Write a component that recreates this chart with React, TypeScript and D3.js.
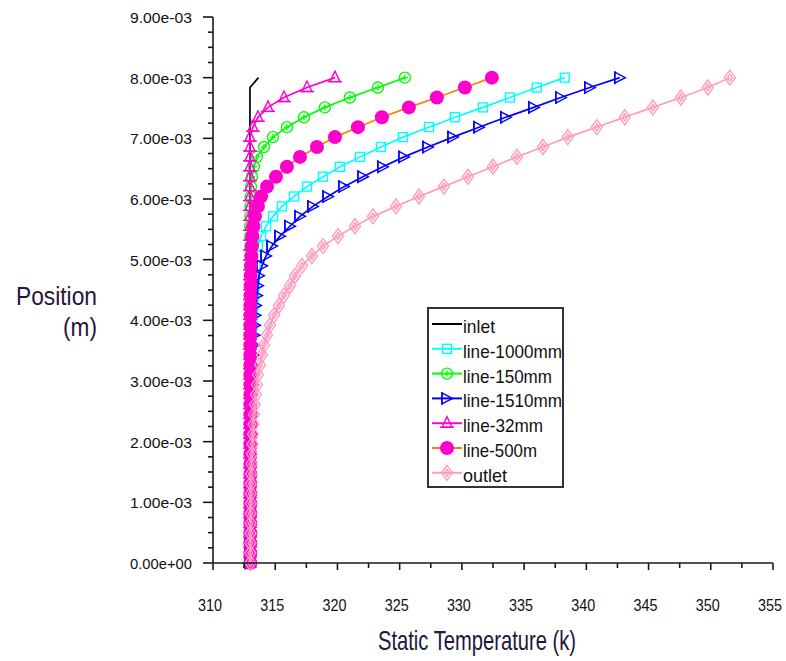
import React from "react";
import * as d3 from "d3";

// ---------- data ----------
const Y_MM = [
  0.0, 0.163, 0.327, 0.49, 0.653, 0.816, 0.98, 1.143, 1.306, 1.469,
  1.633, 1.796, 1.959, 2.122, 2.286, 2.449, 2.612, 2.776, 2.939, 3.102,
  3.265, 3.429, 3.592, 3.755, 3.918, 4.082, 4.245, 4.408, 4.571, 4.735,
  4.898, 5.061, 5.224, 5.388, 5.551, 5.714, 5.878, 6.041, 6.204, 6.367,
  6.531, 6.694, 6.857, 7.02, 7.184, 7.347, 7.51, 7.673, 7.837, 8.0,
];

const T_INLET = [
  312.97, 312.97, 312.97, 312.97, 312.97, 312.97, 312.97, 312.97, 312.97, 312.97,
  312.97, 312.97, 312.97, 312.97, 312.97, 312.97, 312.97, 312.97, 312.97, 312.97,
  312.97, 312.97, 312.97, 312.97, 312.97, 312.97, 312.97, 312.97, 312.97, 312.97,
  312.97, 312.97, 312.97, 312.97, 312.97, 312.97, 312.97, 312.97, 312.97, 312.97,
  312.97, 312.97, 312.97, 312.97, 312.97, 312.97, 312.97, 312.97, 312.97, 313.65,
];

const T_1000 = [
  313.0, 313.0, 313.0, 313.0, 313.0, 313.01, 313.01, 313.01, 313.01, 313.01,
  313.02, 313.02, 313.02, 313.02, 313.02, 313.02, 313.02, 313.02, 313.02, 313.02,
  313.03, 313.05, 313.09, 313.13, 313.17, 313.21, 313.25, 313.29, 313.33, 313.37,
  313.41, 313.49, 313.61, 313.86, 314.26, 314.82, 315.54, 316.51, 317.55, 318.84,
  320.2, 321.81, 323.49, 325.26, 327.35, 329.44, 331.69, 333.86, 336.02, 338.27,
];

const T_150 = [
  313.0, 313.0, 313.0, 313.0, 313.0, 313.0, 313.0, 313.0, 313.0, 313.0,
  313.0, 313.0, 313.0, 313.0, 313.0, 313.0, 313.0, 313.0, 313.0, 313.0,
  313.0, 313.0, 313.0, 313.0, 313.0, 313.0, 313.0, 313.0, 313.0, 313.0,
  313.0, 313.0, 313.0, 313.0, 313.0, 313.01, 313.02, 313.03, 313.05, 313.13,
  313.29, 313.53, 314.1, 314.82, 315.94, 317.31, 318.99, 321.0, 323.25, 325.42,
];

const T_1510 = [
  313.0, 313.0, 313.0, 313.01, 313.01, 313.01, 313.02, 313.02, 313.02, 313.03,
  313.03, 313.03, 313.04, 313.04, 313.04, 313.04, 313.05, 313.09, 313.13, 313.17,
  313.21, 313.25, 313.29, 313.33, 313.37, 313.41, 313.45, 313.53, 313.61, 313.69,
  313.94, 314.26, 314.74, 315.38, 316.18, 316.99, 318.03, 319.24, 320.52, 322.05,
  323.65, 325.34, 327.27, 329.28, 331.37, 333.53, 335.78, 337.95, 340.28, 342.69,
];

const T_32 = [
  312.97, 312.97, 312.97, 312.97, 312.97, 312.97, 312.97, 312.97, 312.97, 312.97,
  312.97, 312.97, 312.97, 312.97, 312.97, 312.97, 312.97, 312.97, 312.97, 312.97,
  312.97, 312.97, 312.97, 312.97, 312.97, 312.97, 312.97, 312.97, 312.97, 312.97,
  312.97, 312.97, 312.97, 312.97, 312.97, 312.97, 312.97, 312.97, 312.97, 312.97,
  312.97, 312.97, 312.97, 312.97, 313.21, 313.61, 314.42, 315.7, 317.55, 319.8,
];

const T_500 = [
  313.0, 313.0, 313.0, 313.0, 313.0, 313.0, 313.0, 313.0, 313.0, 313.0,
  313.0, 313.0, 313.0, 313.0, 313.0, 313.0, 313.0, 313.0, 313.0, 313.0,
  313.0, 313.0, 313.0, 313.0, 313.0, 313.0, 313.0, 313.01, 313.02, 313.03,
  313.05, 313.09, 313.13, 313.17, 313.25, 313.37, 313.61, 313.86, 314.34, 315.06,
  315.94, 316.99, 318.35, 319.8, 321.65, 323.57, 325.74, 327.99, 330.24, 332.41,
];

const T_OUTLET = [
  313.0, 313.0, 313.01, 313.01, 313.02, 313.02, 313.03, 313.03, 313.04, 313.05,
  313.09, 313.13, 313.17, 313.21, 313.25, 313.29, 313.37, 313.45, 313.53, 313.61,
  313.78, 313.94, 314.1, 314.34, 314.58, 314.9, 315.3, 315.7, 316.18, 316.59,
  317.15, 317.95, 318.84, 320.04, 321.41, 322.85, 324.7, 326.55, 328.55, 330.48,
  332.49, 334.42, 336.51, 338.51, 340.84, 343.09, 345.34, 347.59, 349.76, 351.53,
];

const SERIES_NAMES = ["inlet", "line-1000mm", "line-150mm", "line-1510mm", "line-32mm", "line-500m", "outlet"];
const SERIES_VALUES = [T_INLET, T_1000, T_150, T_1510, T_32, T_500, T_OUTLET];

const X_TICKS = [310, 315, 320, 325, 330, 335, 340, 345, 350, 355];
const X_TICK_LABELS = ["310", "315", "320", "325", "330", "335", "340", "345", "350", "355"];
const Y_TICKS = [0, 0.001, 0.002, 0.003, 0.004, 0.005, 0.006, 0.007, 0.008, 0.009];
const Y_TICK_LABELS = [
  "0.00e+00", "1.00e-03", "2.00e-03", "3.00e-03", "4.00e-03",
  "5.00e-03", "6.00e-03", "7.00e-03", "8.00e-03", "9.00e-03",
];

// ---------- styles ----------
const STYLES = [
  { line: "#000000", marker: "none", mcolor: "#000000" },
  { line: "#00ffff", marker: "square", mcolor: "#00ffff" },
  { line: "#00ff00", marker: "circlePlus", mcolor: "#00ff00" },
  { line: "#0000ff", marker: "triRight", mcolor: "#0000ff" },
  { line: "#ff00cc", marker: "triUp", mcolor: "#ff00cc" },
  { line: "#ff8000", marker: "dot", mcolor: "#ff00cc" },
  { line: "#ff9cc0", marker: "diamond", mcolor: "#ff9cc0" },
];

const x = d3.scaleLinear().domain([310, 355]).range([213, 773]);
const y = d3.scaleLinear().domain([0, 0.009]).range([563, 17]);

function Marker({ type, color, cx, cy }: { type: string; color: string; cx: number; cy: number }) {
  const sw = 1.4;
  switch (type) {
    case "square":
      return <rect x={cx - 4.5} y={cy - 4.5} width={9} height={9} fill="none" stroke={color} strokeWidth={sw} />;
    case "circlePlus":
      return (
        <g fill="none" stroke={color} strokeWidth={sw}>
          <circle cx={cx} cy={cy} r={5.5} />
          <path d={`M${cx - 3},${cy}H${cx + 3}M${cx},${cy - 3}V${cy + 3}`} />
        </g>
      );
    case "triRight":
      return (
        <g fill="none" stroke={color} strokeWidth={sw}>
          <path d={`M${cx - 5},${cy - 5.5}L${cx + 5.5},${cy}L${cx - 5},${cy + 5.5}Z`} />
          <path d={`M${cx - 5},${cy - 6.5}V${cy + 6.5}`} />
        </g>
      );
    case "triUp":
      return (
        <g fill="none" stroke={color} strokeWidth={sw}>
          <path d={`M${cx - 5},${cy + 4}L${cx},${cy - 6.5}L${cx + 5},${cy + 4}Z`} />
          <path d={`M${cx - 7},${cy + 4}H${cx + 7}`} />
        </g>
      );
    case "dot":
      return <circle cx={cx} cy={cy} r={7} fill={color} />;
    case "diamond":
      return (
        <g fill="none" stroke={color} strokeWidth={sw}>
          <path d={`M${cx},${cy - 7.5}L${cx + 5.5},${cy}L${cx},${cy + 7.5}L${cx - 5.5},${cy}Z`} />
          <path d={`M${cx},${cy - 3.5}L${cx + 2.5},${cy}L${cx},${cy + 3.5}L${cx - 2.5},${cy}Z`} />
        </g>
      );
    default:
      return null;
  }
}

export default function App() {
  const line = d3
    .line<[number, number]>()
    .x((d) => x(d[0]))
    .y((d) => y(d[1]));

  const series = SERIES_VALUES.map((vals) =>
    vals.map((t, i) => [t, Y_MM[i] * 1e-3] as [number, number])
  );

  const xMinor = d3.range(310, 355.01, 2.5);
  const yMinor = d3.range(0, 0.00901, 0.00025);
  const axisColor = "#1a1a1a";
  const textColor = "#111111";
  const titleColor = "#24163c";

  const legendX = 428;
  const legendY = 308;
  const rowY = (k: number) => 324 + k * 24.8;
  const legendTextLen = [32, 99, 89, 99, 80, 74, 44];

  return (
    <svg
      width={786}
      height={661}
      style={{ position: "absolute", left: 0, top: 0, background: "#fff" }}
      fontFamily="'Liberation Sans', Arial, sans-serif"
    >
      <rect width={786} height={661} fill="#fff" />
      {/* series */}
      {series.map((pts, si) => (
        <g key={SERIES_NAMES[si]}>
          <path d={line(pts) || ""} fill="none" stroke={STYLES[si].line} strokeWidth={1.7} />
          {STYLES[si].marker !== "none" &&
            pts.map((p, i) => (
              <Marker key={i} type={STYLES[si].marker} color={STYLES[si].mcolor} cx={x(p[0])} cy={y(p[1])} />
            ))}
        </g>
      ))}

      {/* axes */}
      <g stroke={axisColor} strokeWidth={1.6} fill="none">
        <line x1={x(310)} y1={y(0)} x2={x(355)} y2={y(0)} />
        <line x1={x(310)} y1={y(0)} x2={x(310)} y2={y(0.009)} />
        {xMinor.map((v, i) => (
          <line key={"xm" + i} x1={x(v)} x2={x(v)} y1={y(0)} y2={y(0) + (i % 2 === 0 ? 7 : 5)} />
        ))}
        {yMinor.map((v, i) => (
          <line key={"ym" + i} x1={x(310)} x2={x(310) - (i % 4 === 0 ? 10 : 5)} y1={y(v)} y2={y(v)} />
        ))}
      </g>
      {X_TICKS.map((v, i) => (
        <text key={"xl" + i} x={x(v) - 3} y={611} textAnchor="middle" fontSize={17} fill={textColor}
          textLength={24} lengthAdjust="spacingAndGlyphs">
          {X_TICK_LABELS[i]}
        </text>
      ))}
      {Y_TICKS.map((v, i) => (
        <text key={"yl" + i} x={192} y={y(v) + 6} textAnchor="end" fontSize={15} fill={textColor}
          textLength={62} lengthAdjust="spacingAndGlyphs">
          {Y_TICK_LABELS[i]}
        </text>
      ))}

      {/* axis titles */}
      <text x={97} y={305} textAnchor="end" fontSize={26} fill={titleColor} textLength={81} lengthAdjust="spacingAndGlyphs">
        Position
      </text>
      <text x={97} y={336} textAnchor="end" fontSize={26} fill={titleColor} textLength={34} lengthAdjust="spacingAndGlyphs">
        (m)
      </text>
      <text x={477} y={650} textAnchor="middle" fontSize={28} fill={titleColor} textLength={198} lengthAdjust="spacingAndGlyphs">
        Static Temperature (k)
      </text>

      {/* legend */}
      <rect x={legendX} y={legendY} width={135} height={179} fill="#fff" stroke="#333" strokeWidth={2} />
      {SERIES_NAMES.map((name, k) => {
        const ry = rowY(k);
        return (
          <g key={"lg" + name}>
            <line x1={432} x2={462} y1={ry} y2={ry} stroke={STYLES[k].line} strokeWidth={2} />
            {STYLES[k].marker !== "none" && (
              <Marker type={STYLES[k].marker} color={STYLES[k].mcolor} cx={447} cy={ry} />
            )}
            <text x={463} y={ry + 9} fontSize={19} fill={textColor} textLength={legendTextLen[k]} lengthAdjust="spacingAndGlyphs">
              {name}
            </text>
          </g>
        );
      })}
    </svg>
  );
}
